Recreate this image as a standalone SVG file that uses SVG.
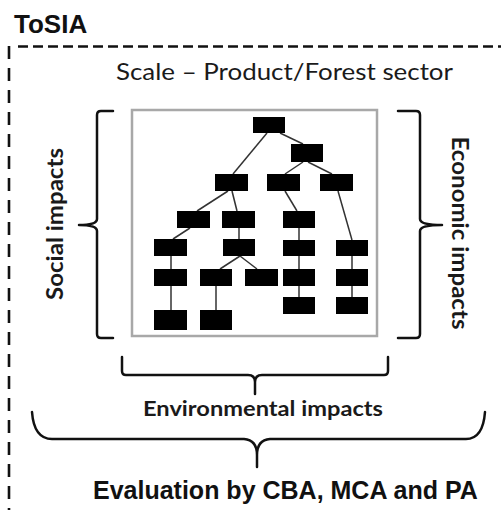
<svg xmlns="http://www.w3.org/2000/svg" width="501" height="510" viewBox="0 0 501 510">
  <style>
    .frame { fill: none; stroke: #111; stroke-width: 2.6; }
    .box { fill: #fff; stroke: #a8a8a8; stroke-width: 2.5; }
    .node rect { fill: #000; }
    .edge { stroke: #333; stroke-width: 1.5; fill: none; }
    .brace { fill: none; stroke: #111; stroke-width: 2.5; stroke-linejoin: round; stroke-linecap: round; }
    .title { font-family: "Liberation Sans", Arial, sans-serif; font-weight: bold; fill: #111; }
    .label { font-family: Lato, "Open Sans", sans-serif; fill: #1a1a1a; }
    .bold { font-weight: bold; }
  </style>

  <!-- Outer dashed boundary (top and left edges) -->
  <line class="frame" x1="18" y1="46.5" x2="501" y2="46.5" stroke-dasharray="10 5"/>
  <line class="frame" x1="9" y1="46" x2="9" y2="510" stroke-dasharray="13 9"/>

  <text class="title" x="14" y="33" font-size="26">ToSIA</text>
  <text class="label" x="284.5" y="80" font-size="22.5" text-anchor="middle" textLength="337" lengthAdjust="spacingAndGlyphs">Scale – Product/Forest sector</text>

  <!-- Hierarchy panel -->
  <rect class="box" x="132" y="110" width="245" height="226"/>

  <g id="connectors">
    <line class="edge" x1="267" y1="133" x2="233" y2="174"/>
    <line class="edge" x1="280" y1="133" x2="303" y2="144"/>
    <line class="edge" x1="303" y1="162" x2="285" y2="174"/>
    <line class="edge" x1="308" y1="162" x2="332" y2="174"/>
    <line class="edge" x1="228" y1="191" x2="197" y2="211"/>
    <line class="edge" x1="232" y1="191" x2="237" y2="211"/>
    <line class="edge" x1="285" y1="191" x2="297" y2="211"/>
    <line class="edge" x1="338" y1="191" x2="352" y2="240"/>
    <line class="edge" x1="190" y1="228" x2="173" y2="239"/>
    <line class="edge" x1="239" y1="228" x2="239" y2="239"/>
    <line class="edge" x1="299" y1="228" x2="299" y2="240"/>
    <line class="edge" x1="171" y1="256" x2="171" y2="310"/>
    <line class="edge" x1="240" y1="256" x2="220" y2="269"/>
    <line class="edge" x1="240" y1="256" x2="257" y2="269"/>
    <line class="edge" x1="216" y1="286" x2="216" y2="310"/>
    <line class="edge" x1="299" y1="256" x2="299" y2="297"/>
    <line class="edge" x1="352" y1="256" x2="352" y2="297"/>
  </g>

  <g id="n1" class="node"><rect x="253" y="117" width="32" height="16"/></g>
  <g id="n2" class="node"><rect x="291" y="144" width="32" height="18"/></g>
  <g id="n3" class="node"><rect x="215" y="174" width="33" height="17"/></g>
  <g id="n4" class="node"><rect x="267" y="174" width="33" height="17"/></g>
  <g id="n5" class="node"><rect x="320" y="174" width="33" height="17"/></g>
  <g id="n6" class="node"><rect x="177" y="211" width="33" height="17"/></g>
  <g id="n7" class="node"><rect x="222" y="211" width="33" height="17"/></g>
  <g id="n8" class="node"><rect x="283" y="211" width="32" height="17"/></g>
  <g id="n9" class="node"><rect x="154" y="239" width="33" height="17"/></g>
  <g id="n10" class="node"><rect x="223" y="239" width="32" height="17"/></g>
  <g id="n11" class="node"><rect x="283" y="240" width="32" height="16"/></g>
  <g id="n12" class="node"><rect x="336" y="240" width="32" height="16"/></g>
  <g id="n13" class="node"><rect x="154" y="269" width="33" height="17"/></g>
  <g id="n14" class="node"><rect x="200" y="269" width="32" height="17"/></g>
  <g id="n15" class="node"><rect x="245" y="269" width="33" height="17"/></g>
  <g id="n16" class="node"><rect x="283" y="269" width="32" height="17"/></g>
  <g id="n17" class="node"><rect x="336" y="269" width="32" height="17"/></g>
  <g id="n18" class="node"><rect x="154" y="310" width="33" height="20"/></g>
  <g id="n19" class="node"><rect x="200" y="310" width="32" height="20"/></g>
  <g id="n20" class="node"><rect x="283" y="297" width="32" height="17"/></g>
  <g id="n21" class="node"><rect x="336" y="297" width="32" height="17"/></g>

  <!-- Braces -->
  <path class="brace" d="M113,111 H101 Q97,111 97,115 V219 Q97,225 79,225 Q97,225 97,231 V334 Q97,338 101,338 H113"/>
  <path class="brace" d="M398,111 H416 Q420,111 420,115 V219 Q420,225 442,225 Q420,225 420,231 V334 Q420,338 416,338 H398"/>
  <path class="brace" d="M122,357 V371 Q122,375 126,375 H248 Q255,375 255,382 V394 M255,382 Q255,375 262,375 H384 Q388,375 388,371 V357"/>
  <path class="brace" d="M32,412 Q34,439 52,439 H244 Q257,440 257,455 V467 M257,455 Q257,440 270,439 H466 Q483,439 485,412"/>

  <text class="label bold" font-size="23" text-anchor="middle" textLength="152" lengthAdjust="spacingAndGlyphs" transform="translate(63,224) rotate(-90)">Social impacts</text>
  <text class="label bold" font-size="23" text-anchor="middle" textLength="193" lengthAdjust="spacingAndGlyphs" transform="translate(452,233) rotate(90)">Economic impacts</text>
  <text class="label bold" x="263" y="416" font-size="20.5" text-anchor="middle" textLength="240" lengthAdjust="spacingAndGlyphs">Environmental impacts</text>
  <text class="title" x="93" y="499" font-size="25">Evaluation by CBA, MCA and PA</text>
</svg>
